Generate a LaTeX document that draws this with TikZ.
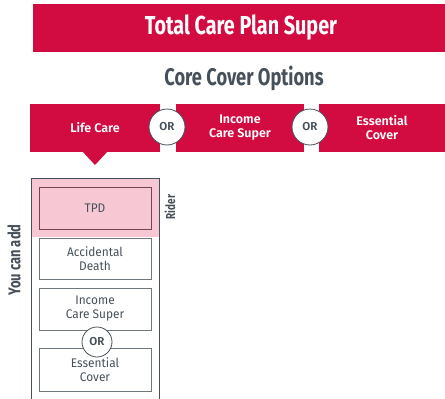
\documentclass[tikz,border=0pt]{standalone}
\usepackage{fontspec}
\setmainfont{Fira Sans}
\newfontfamily\condbold[FakeStretch=0.76]{Fira Sans Bold}
\newfontfamily\plexbold{Fira Sans SemiBold}
\newfontfamily\plexreg[FakeStretch=0.95]{Fira Sans}
\definecolor{brandred}{HTML}{D20C41}
\definecolor{pinkbg}{HTML}{F7C8D3}
\definecolor{darktext}{HTML}{46505A}
\definecolor{boxline}{HTML}{6E7780}
\tikzset{
  redbox/.style={fill=brandred, draw=none, text=white, font=\plexbold\fontsize{12.5}{14}\selectfont, align=center},
  orcircle/.style={circle, fill=white, draw=darktext, line width=0.8pt, text=darktext, font=\plexbold\fontsize{11.5}{12}\selectfont, inner sep=0pt},
  addbox/.style={draw=boxline, line width=0.9pt, text=darktext, font=\plexreg\fontsize{12.5}{14}\selectfont, align=center, inner sep=0pt},
}
\begin{document}
\begin{tikzpicture}[x=1pt,y=-1pt]
\useasboundingbox (0,0) rectangle (445,399);
% title
\fill[brandred] (33,4) rectangle (445,52);
\node[text=white, font=\condbold\fontsize{26}{28}\selectfont] (title) at (241,28) {Total Care Plan Super};
\node[text=darktext, font=\condbold\fontsize{24}{26}\selectfont] (core) at (244,78) {Core Cover Options};
% option boxes
\node[redbox, minimum width=130pt, minimum height=48pt] (life) at (95,128) {Life Care};
\fill[brandred] (82,151) -- (108,151) -- (95,165) -- cycle;
\node[redbox, minimum width=128pt, minimum height=48pt] (income) at (240,128) {Income\\Care Super};
\node[redbox, minimum width=126pt, minimum height=48pt] (essential) at (382,128) {Essential\\Cover};
\node[orcircle, minimum size=36pt] (or1) at (167,127) {OR};
\node[orcircle, minimum size=36pt] (or2) at (310,127) {OR};
% lower column
\fill[pinkbg] (31,178) rectangle (159,237);
\draw[darktext, line width=0.9pt] (31,399) -- (31,178) -- (159,178) -- (159,399);
\node[addbox, fill=pinkbg, draw=boxline!70!brandred!80!black, minimum width=112pt, minimum height=42pt] (tpd) at (95,208) {TPD};
\node[addbox, minimum width=112pt, minimum height=41pt] (acc) at (95,258.5) {Accidental\\Death};
\node[addbox, minimum width=112pt, minimum height=42pt] (inc2) at (95,309) {Income\\Care Super};
\node[addbox, minimum width=112pt, minimum height=43pt] (ess2) at (95,369.5) {Essential\\Cover};
\node[orcircle, minimum size=30pt] (or3) at (97,342) {OR};
\node[rotate=90, text=darktext, font=\condbold\fontsize{17}{18}\selectfont] (youcan) at (14,260) {You can add};
\node[rotate=90, text=darktext, font=\condbold\fontsize{13}{14}\selectfont] (rider) at (170,207) {Rider};
\end{tikzpicture}
\end{document}
